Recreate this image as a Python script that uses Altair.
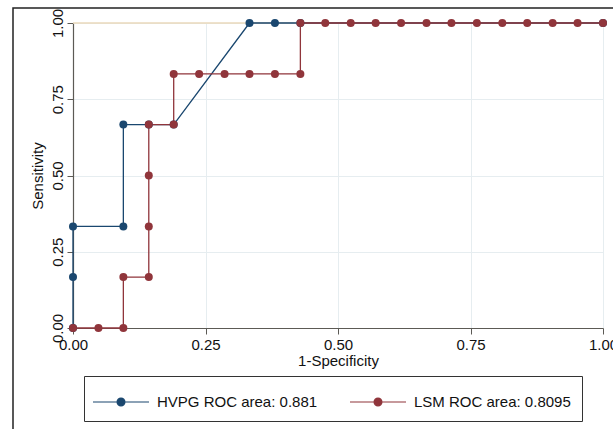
import altair as alt
import pandas as pd

series_names = ["HVPG ROC area: 0.881", "LSM ROC area: 0.8095"]
series_colors = ["#1a476f", "#90353b"]

hvpg_fpr = [0.0, 0.0, 0.0, 0.095, 0.095, 0.143, 0.190, 0.333, 0.381, 0.429, 1.0]
hvpg_tpr = [0.0, 0.167, 0.333, 0.333, 0.667, 0.667, 0.667, 1.0, 1.0, 1.0, 1.0]

lsm_fpr = [0.0, 0.048, 0.095, 0.095, 0.143, 0.143, 0.143, 0.143, 0.190, 0.190,
           0.238, 0.286, 0.333, 0.381, 0.429, 0.429, 0.476, 0.524, 0.571, 0.619,
           0.667, 0.714, 0.762, 0.810, 0.857, 0.905, 0.952, 1.0]
lsm_tpr = [0.0, 0.0, 0.0, 0.167, 0.167, 0.333, 0.5, 0.667, 0.667, 0.833,
           0.833, 0.833, 0.833, 0.833, 0.833, 1.0, 1.0, 1.0, 1.0, 1.0,
           1.0, 1.0, 1.0, 1.0, 1.0, 1.0, 1.0, 1.0]

ref_x = [0.0, 1.0]
ref_y = [1.0, 1.0]

tick_values = [0.0, 0.25, 0.5, 0.75, 1.0]

rows = []
for i, (a, b) in enumerate(zip(hvpg_fpr, hvpg_tpr)):
    rows.append({"series": series_names[0], "fpr": a, "tpr": b, "idx": i})
for i, (a, b) in enumerate(zip(lsm_fpr, lsm_tpr)):
    rows.append({"series": series_names[1], "fpr": a, "tpr": b, "idx": 100 + i})
df = pd.DataFrame(rows)
ref = pd.DataFrame({"fpr": ref_x, "tpr": ref_y})

FONT = "Liberation Sans"

xscale = alt.Scale(domain=[0, 1], nice=False, zero=False)
yscale = alt.Scale(domain=[0, 1], nice=False, zero=False)

xaxis = alt.Axis(values=tick_values, format=".2f", title="1-Specificity",
                 labelFlush=False, labelOverlap=False, tickSize=6, labelPadding=3,
                 titlePadding=1)
yaxis = alt.Axis(values=tick_values, format=".2f", title="Sensitivity",
                 labelAngle=270, labelAlign="center", labelBaseline="bottom",
                 labelFlush=False, labelOverlap=False, tickSize=6, labelPadding=2,
                 titlePadding=5)

sym_path = "M-2,0L2,0M0.28,0A0.28,0.28,0,1,1,-0.28,0A0.28,0.28,0,1,1,0.28,0Z"
leg = alt.Legend(title=None, orient="none", legendX=11, legendY=353,
                 direction="horizontal", columns=2, symbolType=sym_path,
                 symbolSize=784, symbolStrokeWidth=1.2, symbolOffset=11,
                 labelOffset=21, columnPadding=29, padding=11,
                 strokeColor="#333333", labelFont=FONT, labelFontSize=15,
                 labelLimit=400, labelColor="#111111")
cscale = alt.Scale(domain=series_names, range=series_colors)

frame = alt.Chart(pd.DataFrame({"k": [0]})).mark_rect(
    fill="transparent", stroke="#222222", strokeWidth=1.5
).encode(x=alt.value(-60), x2=alt.value(700), y=alt.value(-15), y2=alt.value(600))

refline = alt.Chart(ref).mark_line(color="#ead8bb", strokeWidth=1.5).encode(
    x=alt.X("fpr:Q", scale=xscale, axis=xaxis),
    y=alt.Y("tpr:Q", scale=yscale, axis=yaxis),
)

lines = alt.Chart(df).mark_line(strokeWidth=1.3).encode(
    x=alt.X("fpr:Q", scale=xscale, axis=xaxis),
    y=alt.Y("tpr:Q", scale=yscale, axis=yaxis),
    order="idx:Q",
    stroke=alt.Stroke("series:N", scale=cscale, legend=leg),
)

points = alt.Chart(df).mark_circle(size=64, opacity=1).encode(
    x=alt.X("fpr:Q", scale=xscale, axis=xaxis),
    y=alt.Y("tpr:Q", scale=yscale, axis=yaxis),
    fill=alt.Fill("series:N", scale=cscale, legend=leg),
)

chart = alt.layer(frame, refline, lines, points).properties(
    width=530, height=305,
    autosize=alt.AutoSizeParams(type="none"),
    padding={"left": 73, "top": 23, "right": 10, "bottom": 101},
    background="white",
).configure_view(stroke="transparent").configure_axis(
    labelFont=FONT, titleFont=FONT, labelFontSize=15, titleFontSize=15,
    titleFontWeight="normal", labelColor="#111111", titleColor="#111111",
    domainColor="#5c5a55", tickColor="#5c5a55", domainWidth=1.2,
    gridColor="#e6edf0", gridWidth=1,
)

chart.save("out.html", embed_options={"renderer": "svg", "actions": False})
